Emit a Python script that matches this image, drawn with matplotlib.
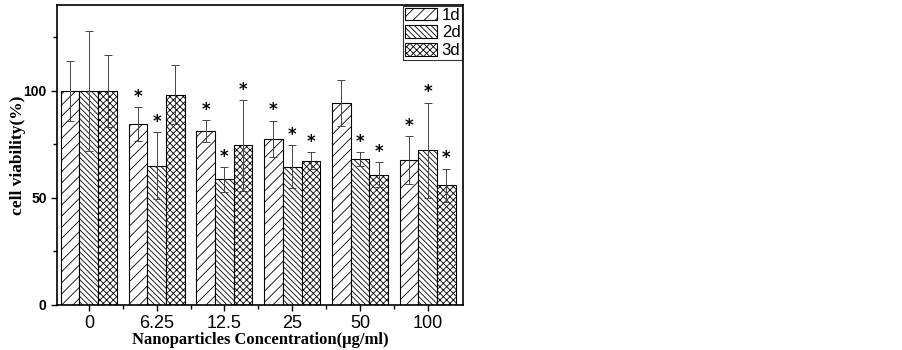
import numpy as np
import matplotlib.pyplot as plt
from matplotlib.ticker import FixedLocator

plt.rcParams['hatch.linewidth'] = 0.6

# Data
concentrations = ['0', '6.25', '12.5', '25', '50', '100']
series_labels = ['1d', '2d', '3d']
viability_1d = [100, 84.6, 81.3, 77.6, 94.1, 67.6]
viability_2d = [100, 65.1, 58.7, 64.6, 68.2, 72.3]
viability_3d = [100, 98.1, 74.5, 67.3, 60.9, 55.8]
err_1d = [13.9, 7.9, 5.1, 8.5, 10.7, 11.1]
err_2d = [27.9, 15.7, 5.9, 10.0, 3.3, 22.2]
err_3d = [16.7, 13.7, 21.1, 3.9, 5.8, 7.9]
significant_1d = [False, True, True, True, False, True]
significant_2d = [False, True, True, True, True, True]
significant_3d = [False, False, True, True, True, True]

values = [viability_1d, viability_2d, viability_3d]
errors = [err_1d, err_2d, err_3d]
signif = [significant_1d, significant_2d, significant_3d]
hatches = ['///', '\\\\\\\\\\\\', 'xxxxx']

fig = plt.figure(figsize=(9.03, 3.5), dpi=100)
ax = fig.add_axes([0.0631, 0.1286, 0.4496, 0.857])

x = np.arange(len(concentrations))
width = 0.276
for i in range(3):
    pos = x + (i - 1) * width
    ax.bar(pos, values[i], width, color='white', edgecolor='black',
           hatch=hatches[i], linewidth=0.8, label=series_labels[i], zorder=2)
    ax.errorbar(pos, values[i], yerr=errors[i], fmt='none', ecolor='#444444',
                elinewidth=0.7, capsize=3, capthick=0.7, zorder=3)
    for j in range(len(x)):
        if signif[i][j]:
            ax.text(pos[j], values[i][j] + errors[i][j] + 0.5, '*',
                    ha='center', va='bottom', fontsize=12, fontweight='bold')

ax.set_xlim(-0.47, 5.52)
ax.set_ylim(0, 140)
ax.set_xticks(x)
ax.set_xticklabels(concentrations, fontsize=13, family='Liberation Sans')
ax.xaxis.set_minor_locator(FixedLocator(x[:-1] + 0.5))
ax.set_yticks([0, 50, 100])
ax.set_yticklabels(['0', '50', '100'], fontsize=10, fontweight='bold',
                   family='Liberation Sans')
ax.yaxis.set_minor_locator(FixedLocator([25, 75, 125]))
ax.tick_params(axis='both', which='major', direction='out', length=4, width=1)
ax.tick_params(axis='both', which='minor', direction='out', length=3, width=1)
ax.tick_params(axis='x', which='major', pad=3)
for s in ax.spines.values():
    s.set_linewidth(1.2)

ax.set_ylabel('cell viability(%)', fontsize=12.5, fontweight='bold',
              family='Liberation Serif')
ax.yaxis.set_label_coords(-0.076, 0.5)
ax.set_xlabel('Nanoparticles Concentration(\u03bcg/ml)', fontsize=12,
              fontweight='bold', family='Liberation Serif', labelpad=0)

leg = ax.legend(loc='upper right', bbox_to_anchor=(1.0, 1.0),
                prop={'family': 'Liberation Sans', 'size': 12},
                frameon=True, fancybox=False, handlelength=1.9, handleheight=0.8,
                borderpad=0.1, labelspacing=0.15, handletextpad=0.3,
                borderaxespad=0.05)
leg.get_frame().set_edgecolor('black')
leg.get_frame().set_linewidth(0.8)

fig.savefig('out.png', dpi=100)
